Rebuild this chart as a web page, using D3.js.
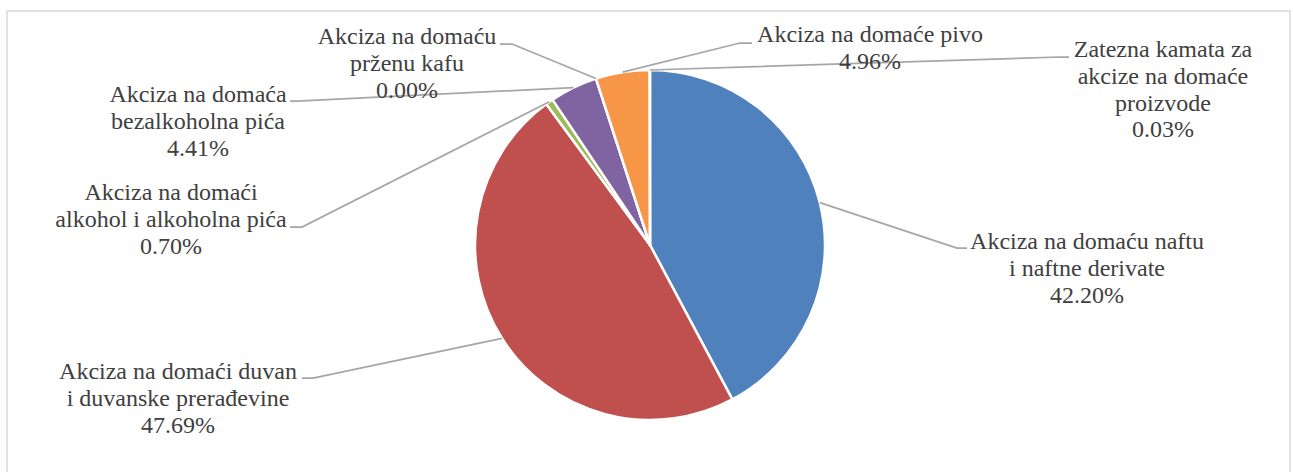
<!DOCTYPE html>
<html lang="sr">
<meta charset="utf-8">
<script src="https://d3js.org/d3.v7.min.js"></script>
<style>
  body { margin: 0; background: #fff; }
</style>
<body>
<div id="chart"></div>
<script>
// categories (line breaks as in the labels) and their shares in %
var categories = [
  "Akciza na domaću naftu\ni naftne derivate",
  "Akciza na domaći duvan\ni duvanske prerađevine",
  "Akciza na domaći\nalkohol i alkoholna pića",
  "Akciza na domaća\nbezalkoholna pića",
  "Akciza na domaću\nprženu kafu",
  "Akciza na domaće pivo",
  "Zatezna kamata za\nakcize na domaće\nproizvode"
];
var values = [42.20, 47.69, 0.70, 4.41, 0.00, 4.96, 0.03];
var colors = ["#4f81bd", "#c0504d", "#9bbb59", "#8064a2", "#4bacc6", "#f79646", "#2c4d75"];

// where each data label sits: text centre x, first baseline y, leader elbow, leader end x
var labelLayout = [
  {x: 1087, y: 249, elbow: [957, 248], end: 967},
  {x: 178,  y: 379, elbow: [313, 378], end: 302},
  {x: 171,  y: 200, elbow: [302, 227], end: 290},
  {x: 198,  y: 102, elbow: [297, 101], end: 290},
  {x: 407,  y: 44,  elbow: [512, 44],  end: 500},
  {x: 870,  y: 42,  elbow: [740, 43],  end: 752},
  {x: 1163, y: 57,  elbow: [1060, 57], end: 1069}
];

var width = 1293, height = 472;
var cx = 650, cy = 245, radius = 175;
var serif = "Liberation Serif, Tinos, Times New Roman, DejaVu Serif, Noto Serif, serif";

var svg = d3.select("#chart")
  .append("svg")
    .attr("width", width)
    .attr("height", height);

// chart area border (bottom edge is outside the picture)
svg.append("rect")
    .attr("x", 7)
    .attr("y", 11)
    .attr("width", 1283)
    .attr("height", 500)
    .attr("fill", "none")
    .attr("stroke", "#d9d9d9")
    .attr("stroke-width", 1.5);

var data = categories.map(function(c, i) { return {name: c, value: values[i], color: colors[i], layout: labelLayout[i]}; });

var pie = d3.pie()
    .sort(null)
    .value(function(d) { return d.value; });

var arc = d3.arc()
    .innerRadius(0)
    .outerRadius(radius);

var arcs = pie(data);

var g = svg.append("g")
    .attr("transform", "translate(" + cx + "," + cy + ")");

g.selectAll("path")
  .data(arcs)
  .enter()
  .append("path")
    .attr("d", arc)
    .attr("fill", function(d) { return d.data.color; })
    .attr("stroke", "#fff")
    .attr("stroke-width", 2.5)
    .attr("stroke-linejoin", "round");

// leader lines from the middle of each slice's outer edge
svg.selectAll("polyline.leader")
  .data(arcs)
  .enter()
  .append("polyline")
    .attr("class", "leader")
    .attr("points", function(d) {
      var a = (d.startAngle + d.endAngle) / 2;
      var sx = cx + radius * Math.sin(a);
      var sy = cy - radius * Math.cos(a);
      var L = d.data.layout;
      return [[sx, sy], L.elbow, [L.end, L.elbow[1]]].map(function(p) { return p.join(","); }).join(" ");
    })
    .attr("fill", "none")
    .attr("stroke", "#a6a6a6")
    .attr("stroke-width", 1.75);

var fmt = d3.format(".2f");

var labels = svg.selectAll("text.lbl")
  .data(arcs)
  .enter()
  .append("text")
    .attr("class", "lbl")
    .attr("text-anchor", "middle")
    .style("font-family", serif)
    .attr("font-size", "24px")
    .attr("fill", "#404040");

labels.each(function(d) {
  var lines = d.data.name.split("\n").concat([fmt(d.data.value) + "%"]);
  var t = d3.select(this);
  lines.forEach(function(line, i) {
    t.append("tspan")
      .attr("x", d.data.layout.x)
      .attr("y", d.data.layout.y + i * 26.8)
      .text(line);
  });
});
</script>
</body>
</html>
